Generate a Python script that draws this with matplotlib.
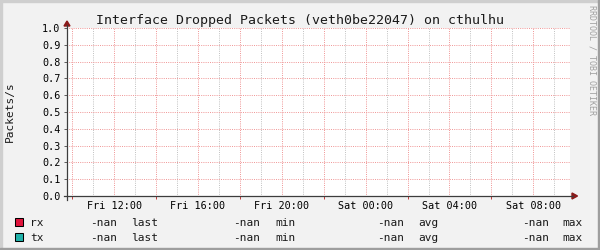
import numpy as np
import pandas as pd
import matplotlib
matplotlib.use("Agg")
import matplotlib.pyplot as plt
import matplotlib.dates as mdates
from matplotlib.patches import Rectangle, Polygon
from matplotlib.lines import Line2D

# ---------------- data ----------------
title = "Interface Dropped Packets (veth0be22047) on cthulhu"
y_label = "Packets/s"
watermark = "RRDTOOL / TOBI OETIKER"
time_range = ["2024-01-05 09:45", "2024-01-06 09:45"]   # Fri 09:45 -> Sat 09:45
series_names = ["rx", "tx"]
series_colors = ["#e0143c", "#20b2aa"]
rx_values = [np.nan, np.nan]
tx_values = [np.nan, np.nan]
stat_names = ["last", "min", "avg", "max"]
rx_stats = ["-nan", "-nan", "-nan", "-nan"]
tx_stats = ["-nan", "-nan", "-nan", "-nan"]
y_ticks = [0.0, 0.1, 0.2, 0.3, 0.4, 0.5, 0.6, 0.7, 0.8, 0.9, 1.0]

# ---------------- style ----------------
MONO = "DejaVu Sans Mono"
BG = "#f2f2f2"
MGRID = "#f09a9a"
GRID = "#c4c4c4"
AXIS = "#3c3c3c"
ARROW = "#8b1a1a"
W, H = 600, 250
DOT = (0.5, (1, 1.2))
PX = 0.72  # one pixel in points at 100 dpi

def fx(x):
    return x / W

def fy(y):
    return 1 - y / H

fig = plt.figure(figsize=(6, 2.5), dpi=100, facecolor=BG)

# 3D-ish border
fig.patches.append(Rectangle((0, fy(2)), 1, 2 / H, transform=fig.transFigure, color="#cfcfcf", zorder=0))
fig.patches.append(Rectangle((0, 0), 2 / W, 1, transform=fig.transFigure, color="#cfcfcf", zorder=0))
fig.patches.append(Rectangle((0, 0), 1, 2 / H, transform=fig.transFigure, color="#9e9e9e", zorder=0))
fig.patches.append(Rectangle((fx(598), 0), 2 / W, 1, transform=fig.transFigure, color="#9e9e9e", zorder=0))

# plot area
L, R, T, B = 67, 570, 28, 196
ax = fig.add_axes([fx(L), fy(B), (R - L) / W, (B - T) / H])
ax.set_facecolor("white")
for s in ax.spines.values():
    s.set_visible(False)

times = pd.to_datetime(time_range)
t0, t1 = mdates.date2num(times[0]), mdates.date2num(times[1])
ax.plot(times, rx_values, color=series_colors[0], lw=1)
ax.plot(times, tx_values, color=series_colors[1], lw=1)
ax.set_xlim(t0, t1)
ax.set_ylim(0, 1.0)

# vertical grid: hourly gray, every 2 h red
for t in pd.date_range(times[0].ceil("h"), times[1], freq="h"):
    c = MGRID if t.hour % 2 == 0 else GRID
    ax.axvline(mdates.date2num(t), color=c, lw=PX, ls=DOT, zorder=1, snap=True)

# x ticks: labels every 4 h, small tick marks every 4 h (offset 2 h)
ax.xaxis.set_major_locator(mdates.HourLocator(byhour=[0, 4, 8, 12, 16, 20]))
ax.xaxis.set_major_formatter(mdates.DateFormatter("%a %H:%M"))
ax.xaxis.set_minor_locator(mdates.HourLocator(byhour=[2, 6, 10, 14, 18, 22]))
ax.tick_params(axis="x", which="major", length=0, pad=3.6, labelsize=7.3)
ax.tick_params(axis="x", which="minor", length=2.5, width=PX, color="#c04040", direction="out")
for lab in ax.get_xticklabels():
    lab.set_family(MONO)

# y ticks and horizontal grid
ax.set_yticks(y_ticks)
ax.set_yticklabels([f"{v:.1f}" for v in y_ticks])
ax.tick_params(axis="y", length=2.5, width=PX, color="#606060", pad=2.2, labelsize=7.3)
for lab in ax.get_yticklabels():
    lab.set_family(MONO)
for v in y_ticks[1:]:
    ax.axhline(v, color=MGRID, lw=PX, ls=DOT, zorder=1, snap=True)

# axis lines and arrows
fig.lines.append(Line2D([fx(L), fx(L)], [fy(200), fy(25)], transform=fig.transFigure, color=AXIS, lw=0.9))
fig.lines.append(Line2D([fx(64), fx(573)], [fy(B), fy(B)], transform=fig.transFigure, color=AXIS, lw=0.9))
fig.patches.append(Polygon([(fx(L - 3), fy(26)), (fx(L + 3), fy(26)), (fx(L), fy(21))],
                           closed=True, transform=fig.transFigure, color=ARROW))
fig.patches.append(Polygon([(fx(572), fy(B - 3)), (fx(572), fy(B + 3)), (fx(577.5), fy(B))],
                           closed=True, transform=fig.transFigure, color=ARROW))

# title, y label, watermark
fig.text(fx(300), fy(24), title, ha="center", va="baseline", fontsize=9.5, family=MONO, color="#1a1a1a")
fig.text(fx(10), fy(112), y_label, ha="center", va="center", rotation=90, fontsize=8, family=MONO, color="#1a1a1a")
fig.text(fx(592), fy(5), watermark, ha="center", va="top", rotation=270, fontsize=6, family=MONO, color="#a0a0a0")

# legend
stat_value_x = [90.2, 233.5, 377.5, 522.2]
stat_name_x = [131.5, 275.5, 418.5, 562.2]
rows = [(series_names[0], series_colors[0], rx_stats, 226, 218),
        (series_names[1], series_colors[1], tx_stats, 241, 233)]
for name, color, stats, base_y, box_y in rows:
    fig.patches.append(Rectangle((fx(15), fy(box_y + 8)), 8 / W, 8 / H, transform=fig.transFigure,
                                 facecolor=color, edgecolor="black", lw=0.75))
    fig.text(fx(30.2), fy(base_y), name, ha="left", va="baseline", fontsize=8, family=MONO, color="#1a1a1a")
    for v, sn, xv, xn in zip(stats, stat_names, stat_value_x, stat_name_x):
        fig.text(fx(xv), fy(base_y), v, ha="left", va="baseline", fontsize=8, family=MONO, color="#1a1a1a")
        fig.text(fx(xn), fy(base_y), sn, ha="left", va="baseline", fontsize=8, family=MONO, color="#1a1a1a")

fig.savefig("out.png", dpi=100, facecolor=BG)
